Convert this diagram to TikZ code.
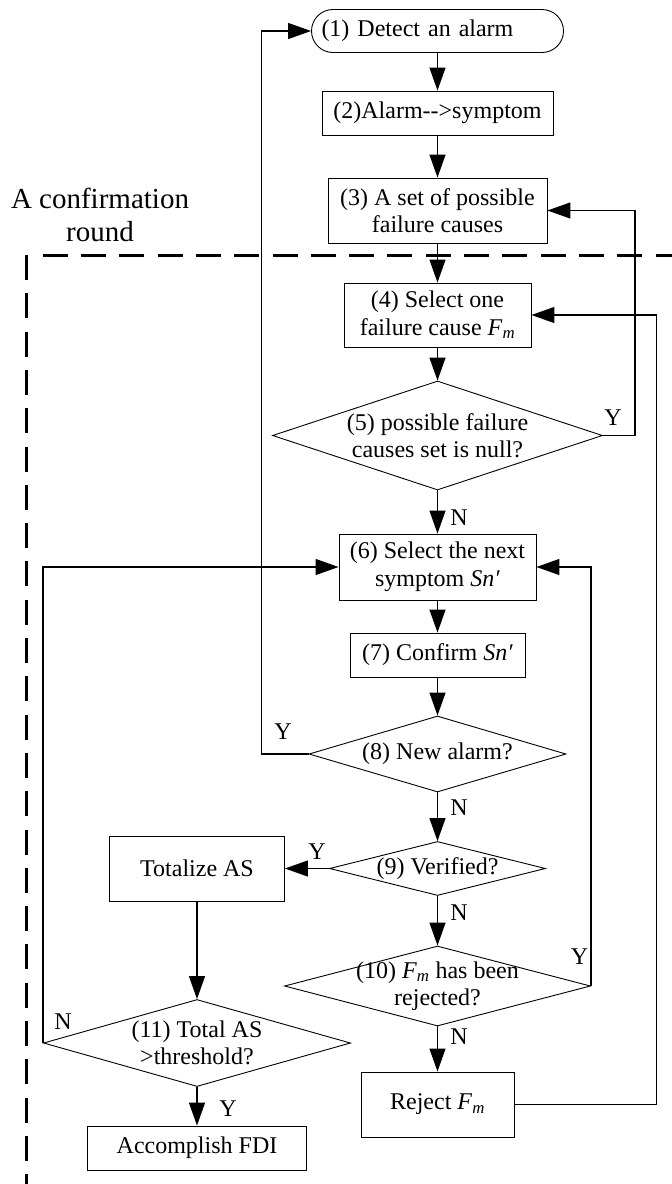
\documentclass[tikz,border=0pt]{standalone}
\usepackage{fontspec}
\setmainfont{Liberation Serif}
\usetikzlibrary{shapes.geometric,arrows.meta}

\tikzset{
	box/.style={draw, line width=.9pt, align=center, inner sep=0pt},
	decision/.style={draw, diamond, line width=.9pt, inner sep=0pt},
	flow/.style={line width=1.3pt, -{Triangle[length=23pt,width=16pt]}},
	frame/.style={line width=3pt, dash pattern=on 25pt off 13.3pt},
	yn/.style={inner sep=1pt},
}
\newcommand{\Fm}{\textit{F}\textsubscript{\textit{m}}}
\newcommand{\Snp}{\textit{Sn′}}

\begin{document}
\begin{tikzpicture}[x=1pt,y=-1pt,font=\fontsize{24}{27.5}\selectfont]
		\useasboundingbox (0,0) rectangle (672,1184);

		%confirmation round
		\node[font=\fontsize{29}{33.3}\selectfont, align=center] (round) at (100,215) {A confirmation\\round};
		\draw[frame] (26,255) -- (26,1184);
		\draw[frame] (42.7,255) -- (672,255);

		%steps
		\node[box, rounded corners=21.5pt, align=left, text width=232pt, inner xsep=10pt, minimum height=43pt] (n1) at (437.5,31) {(1) Detect an alarm};
		\node[box, minimum width=231pt, minimum height=44pt] (n2) at (437.5,113) {(2)Alarm-{}->symptom};
		\node[box, minimum width=219pt, minimum height=65pt] (n3) at (437.5,210.5) {(3) A set of possible\\failure causes};
		\node[box, minimum width=187pt, minimum height=64pt] (n4) at (437.5,315) {(4) Select one\\failure cause \Fm};
		\node[box, minimum width=197pt, minimum height=66pt] (n6) at (437.5,567) {(6) Select the next\\symptom \Snp};
		\node[box, minimum width=175pt, minimum height=44pt] (n7) at (437.5,655) {(7) Confirm \Snp};
		\node[box, minimum width=175pt, minimum height=65pt] (nT) at (197,868.5) {Totalize AS};
		\node[box, minimum width=153pt, minimum height=65pt] (nR) at (437.5,1104.5) {Reject \Fm};
		\node[box, minimum width=219pt, minimum height=44pt] (nA) at (197,1148) {Accomplish FDI};

		%decisions
		\node[decision, minimum width=330pt, minimum height=109pt] (d5) at (437.5,435.5) {};
		\node[align=center] (t5) at (d5) {(5) possible failure\\causes set is null?};

		\node[decision, minimum width=257pt, minimum height=76pt] (d8) at (437.5,754) {};
		\node (t8) at (d8) {(8) New alarm?};

		\node[decision, minimum width=216pt, minimum height=54pt] (d9) at (437.5,868.5) {};
		\node (t9) at (d9) {(9) Verified?};

		\node[decision, minimum width=306pt, minimum height=80pt] (d10) at (437.5,986) {};
		\node[align=center] (t10) at (d10) {(10) \Fm{} has been\\rejected?};

		\node[decision, minimum width=307pt, minimum height=87pt] (d11) at (197,1043) {};
		\node[align=center] (t11) at (d11) {(11) Total AS\\>threshold?};

		%main flow
		\draw[flow] (n1) -- (n2);
		\draw[flow] (n2) -- (n3);
		\draw[flow] (n3) -- (n4);
		\draw[flow] (n4) -- (d5);
		\draw[flow] (d5) -- (n6);
		\draw[flow] (n6) -- (n7);
		\draw[flow] (n7) -- (d8);
		\draw[flow] (d8) -- (d9);
		\draw[flow] (d9) -- (d10);
		\draw[flow] (d10) -- (nR);
		\draw[flow] (d9.west) -- (nT.east);
		\draw[flow] (nT) -- (d11);
		\draw[flow] (d11) -- (nA);

		%loops back
		\draw[flow] (d5.east) -- ++(32,0) |- (n3.east);
		\draw[flow] (d8.west) -- ++(-47,0) |- (n1.west);
		\draw[flow] (d10.east) |- (n6.east);
		\draw[flow] (d11.west) |- (n6.west);
		\draw[flow] (nR.east) -- ++(142,0) |- (n4.east);

		%answers
		\node[yn] (y5) at (613,418) {Y};
		\node[yn] (n5) at (459,518) {N};
		\node[yn] (y8) at (283,732) {Y};
		\node[yn] (n8) at (459,808) {N};
		\node[yn] (y9) at (317,852) {Y};
		\node[yn] (n9) at (459,913) {N};
		\node[yn] (y10) at (579.5,957) {Y};
		\node[yn] (n10) at (459,1037) {N};
		\node[yn] (n11) at (63,1022) {N};
		\node[yn] (y11) at (228,1109) {Y};
	\end{tikzpicture}
\end{document}
